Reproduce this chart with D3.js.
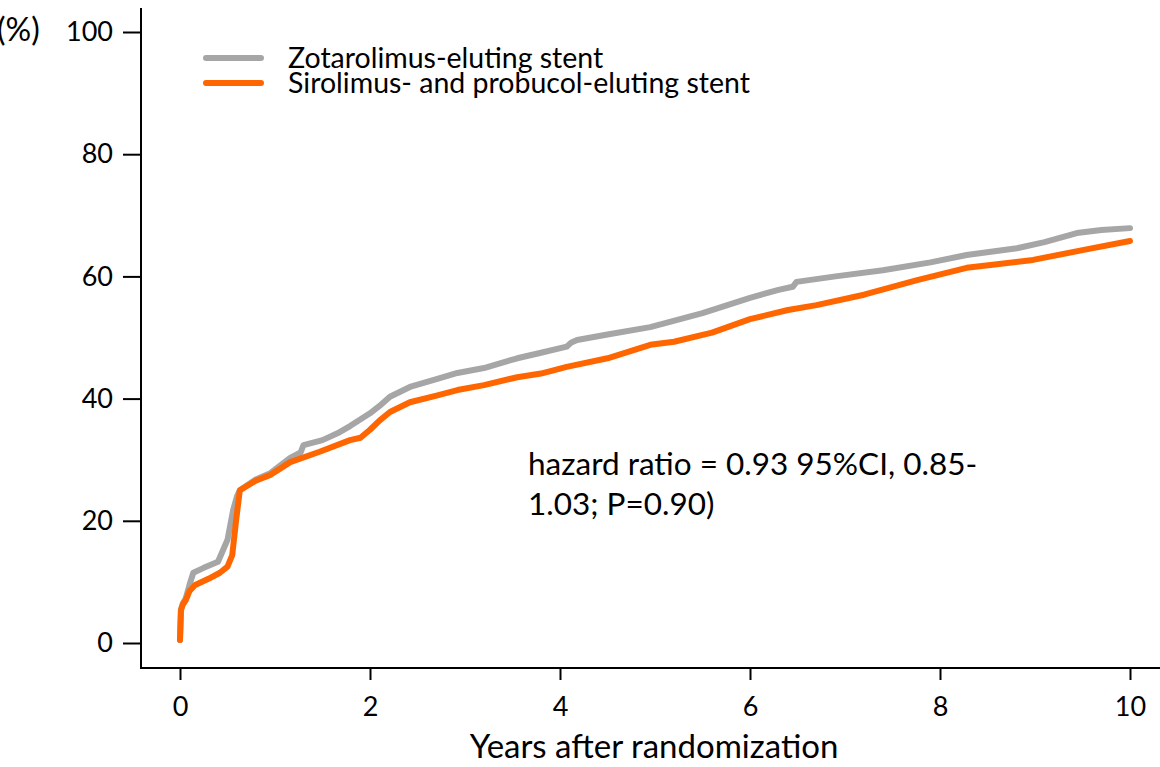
<!DOCTYPE html>
<html lang="en">
<head>
    <title>Cumulative incidence</title>
    <script src="https://d3js.org/d3.v7.min.js"></script>
    <style>
        body { margin: 0; background: #fff; }
        text { font-family: Lato, "Open Sans", sans-serif; fill: #000; }
    </style>
</head>
<body>
<script>
    // series data (years, %)
    const zotaYears = [0, 0.01, 0.03, 0.06, 0.1, 0.14, 0.25, 0.4, 0.5, 0.56, 0.6, 0.63, 0.79, 0.95, 1.16, 1.27, 1.3, 1.5, 1.68, 1.79, 2.0, 2.1, 2.21, 2.42, 2.7, 2.92, 3.2, 3.55, 3.8, 4.07, 4.12, 4.18, 4.5, 4.95, 5.5, 6.0, 6.3, 6.45, 6.49, 6.9, 7.4, 7.9, 8.28, 8.81, 9.1, 9.44, 9.7, 10];
    const zotaValues = [0.5, 5.4, 6.5, 7.3, 9.5, 11.5, 12.3, 13.3, 16.9, 21.8, 24, 25, 26.7, 27.8, 30.3, 31.2, 32.4, 33.2, 34.5, 35.5, 37.6, 38.8, 40.3, 41.9, 43.2, 44.2, 45.0, 46.6, 47.5, 48.5, 49.2, 49.6, 50.5, 51.7, 54.0, 56.5, 57.8, 58.3, 59.1, 60.0, 61.0, 62.3, 63.5, 64.6, 65.6, 67.1, 67.6, 67.9];

    const siroYears = [0, 0.01, 0.03, 0.06, 0.1, 0.16, 0.3, 0.42, 0.5, 0.55, 0.59, 0.63, 0.79, 0.95, 1.16, 1.47, 1.79, 1.9, 2.0, 2.1, 2.21, 2.42, 2.7, 2.92, 3.2, 3.55, 3.8, 4.07, 4.5, 4.95, 5.2, 5.6, 6.0, 6.4, 6.7, 7.2, 7.76, 8.28, 8.6, 8.98, 9.5, 10];
    const siroValues = [0.5, 5.4, 6.3, 7.0, 8.5, 9.5, 10.5, 11.5, 12.5, 14.4, 20, 25, 26.5, 27.5, 29.6, 31.3, 33.2, 33.6, 34.9, 36.4, 37.8, 39.4, 40.5, 41.4, 42.2, 43.5, 44.1, 45.2, 46.6, 48.8, 49.3, 50.8, 53.0, 54.5, 55.3, 57.0, 59.4, 61.4, 62.0, 62.7, 64.3, 65.8];

    const seriesNames = ["Zotarolimus-eluting stent", "Sirolimus- and probucol-eluting stent"];
    const seriesColors = ["#a6a6a6", "#ff6600"];
    const xTicks = [0, 2, 4, 6, 8, 10];
    const yTicks = [0, 20, 40, 60, 80, 100];
    const annotationLines = ["hazard ratio = 0.93 95%CI, 0.85-", "1.03; P=0.90)"];

    const W = 1160, H = 767;
    const axisX = 141, axisY = 668;

    const svg = d3.select("body").append("svg")
        .attr("width", W)
        .attr("height", H);

    const x = d3.scaleLinear().domain([0, 10]).range([180, 1130]);
    const y = d3.scaleLinear().domain([0, 100]).range([643, 32]);

    // axes lines
    svg.append("line")
        .attr("x1", axisX).attr("x2", axisX)
        .attr("y1", 8).attr("y2", axisY + 1)
        .attr("stroke", "#000").attr("stroke-width", 2);
    svg.append("line")
        .attr("x1", axisX - 1).attr("x2", W)
        .attr("y1", axisY).attr("y2", axisY)
        .attr("stroke", "#000").attr("stroke-width", 2);

    // left axis ticks
    const yAxis = svg.append("g")
        .attr("transform", "translate(" + axisX + ",0)")
        .call(d3.axisLeft(y).tickValues(yTicks).tickSize(18).tickPadding(10));
    yAxis.select(".domain").remove();
    yAxis.selectAll("line").attr("stroke-width", 2);
    yAxis.selectAll("text").style("font-size", "27px").style("font-family", "Lato, sans-serif");

    // bottom axis ticks
    const xAxis = svg.append("g")
        .attr("transform", "translate(0," + axisY + ")")
        .call(d3.axisBottom(x).tickValues(xTicks).tickSize(12).tickPadding(17));
    xAxis.select(".domain").remove();
    xAxis.selectAll("line").attr("stroke-width", 2);
    xAxis.selectAll("text").style("font-size", "27px").style("font-family", "Lato, sans-serif");

    // axis titles
    svg.append("text")
        .attr("x", -3).attr("y", 41)
        .style("font-size", "32px")
        .text("(%)");
    svg.append("text")
        .attr("x", 654).attr("y", 758)
        .attr("text-anchor", "middle")
        .style("font-size", "33px")
        .text("Years after randomization");

    // curves
    const line = d3.line()
        .x(d => x(d[0]))
        .y(d => y(d[1]));

    const series = [
        d3.zip(zotaYears, zotaValues),
        d3.zip(siroYears, siroValues)
    ];

    series.forEach((s, i) => {
        svg.append("path")
            .datum(s)
            .attr("fill", "none")
            .attr("stroke", seriesColors[i])
            .attr("stroke-width", 6)
            .attr("stroke-linecap", "round")
            .attr("stroke-linejoin", "round")
            .attr("d", line);
    });

    // legend
    const legend = svg.append("g");
    seriesNames.forEach((name, i) => {
        const ly = 58 + i * 25;
        legend.append("line")
            .attr("x1", 206).attr("x2", 261)
            .attr("y1", ly).attr("y2", ly)
            .attr("stroke", seriesColors[i])
            .attr("stroke-width", 6)
            .attr("stroke-linecap", "round");
        legend.append("text")
            .attr("x", 288).attr("y", ly + 10)
            .style("font-size", "28.5px")
            .text(name);
    });

    // annotation
    annotationLines.forEach((t, i) => {
        svg.append("text")
            .attr("x", 528).attr("y", 475 + i * 40)
            .style("font-size", "31.5px")
            .text(t);
    });
</script>
</body>
</html>
